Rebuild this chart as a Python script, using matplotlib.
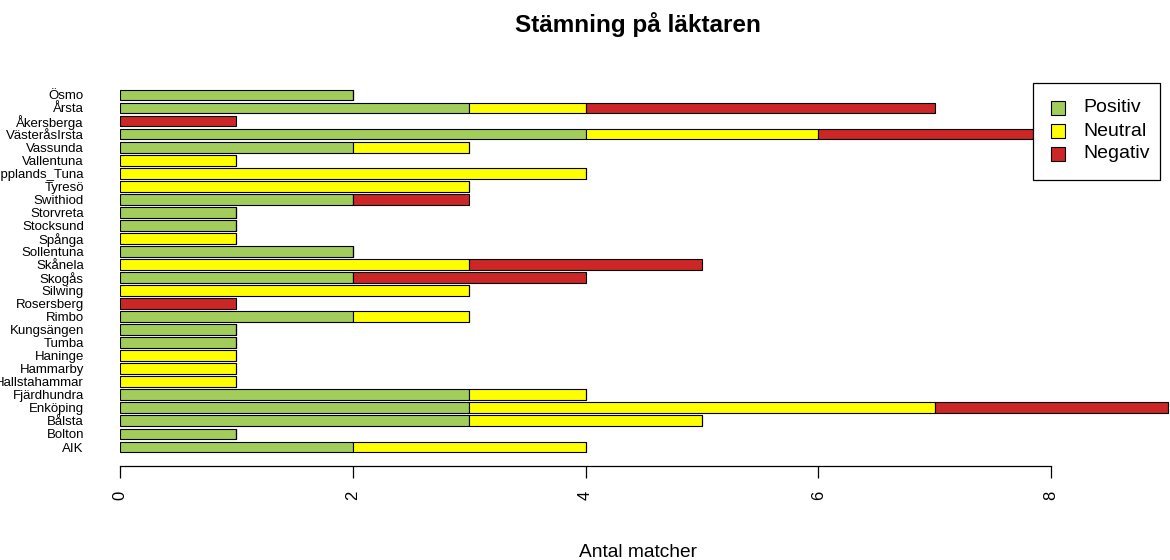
import numpy as np
import matplotlib.pyplot as plt
from matplotlib.patches import Rectangle

plt.rcParams['font.family'] = ['Liberation Sans', 'DejaVu Sans']

# bottom to top, as drawn by the barplot
teams = ["AIK", "Bolton", "Bålsta", "Enköping", "Fjärdhundra", "Hallstahammar",
         "Hammarby", "Haninge", "Tumba", "Kungsängen", "Rimbo", "Rosersberg",
         "Silwing", "Skogås", "Skånela", "Sollentuna", "Spånga", "Stocksund",
         "Storvreta", "Swithiod", "Tyresö", "Upplands_Tuna", "Vallentuna",
         "Vassunda", "VästeråsIrsta", "Åkersberga", "Årsta", "Ösmo"]
positiv = [2, 1, 3, 3, 3, 0, 0, 0, 1, 1, 2, 0, 0, 2, 0, 2, 0, 1, 1, 2, 0, 0, 0, 2, 4, 0, 3, 2]
neutral = [2, 0, 2, 4, 1, 1, 1, 1, 0, 0, 1, 0, 3, 0, 3, 0, 1, 0, 0, 0, 3, 4, 1, 1, 2, 0, 1, 0]
negativ = [0, 0, 0, 2, 0, 0, 0, 0, 0, 0, 0, 1, 0, 2, 2, 0, 0, 0, 0, 1, 0, 0, 0, 0, 2, 1, 3, 0]
series = ["Positiv", "Neutral", "Negativ"]
colors = ["#A2CD5A", "#FFFF00", "#CD2626"]

W, H = 1170, 560
fig = plt.figure(figsize=(11.7, 5.6), dpi=100)
ax = fig.add_axes([120 / W, 94 / H, 1050 / W, 406 / H])

y = np.arange(len(teams))
left = np.zeros(len(teams))
for name, vals, c in zip(series, [positiv, neutral, negativ], colors):
    ax.barh(y, vals, left=left, height=0.833, color=c, edgecolor="black",
            linewidth=0.8, label=name)
    left += np.array(vals)

ax.set_xlim(0, 1050 / 116.4)
ax.set_ylim(-1.457, 29.68)

for s in ["top", "right", "left"]:
    ax.spines[s].set_visible(False)
ax.spines["bottom"].set_bounds(0, 8)
ax.spines["bottom"].set_linewidth(0.9)

ax.set_xticks([0, 2, 4, 6, 8])
ax.set_xticklabels(["0", "2", "4", "6", "8"], rotation=90, fontsize=12)
ax.tick_params(axis="x", length=8.6, width=0.9, pad=9)

ax.set_yticks(y)
ax.set_yticklabels(teams, fontsize=9.5)
ax.tick_params(axis="y", length=0, pad=26)

fig.text(638 / W, 1 - 32 / H, "Stämning på läktaren", ha="center", va="baseline",
         fontsize=17.5, fontweight="bold")
fig.text(638 / W, 1 - 557 / H, "Antal matcher", ha="center", va="baseline",
         fontsize=13.8)

# legend box drawn like R's legend()
fig.patches.append(Rectangle((1033 / W, 1 - 180 / H), 127 / W, 97 / H,
                             transform=fig.transFigure, facecolor="white",
                             edgecolor="black", linewidth=0.9, zorder=5))
for i, (name, c) in enumerate(zip(series, colors)):
    yc = 108 + 23 * i
    fig.patches.append(Rectangle((1051 / W, 1 - (yc + 6.5) / H), 14 / W, 13 / H,
                                 transform=fig.transFigure, facecolor=c,
                                 edgecolor="black", linewidth=0.8, zorder=6))
    fig.text(1083 / W, 1 - yc / H, name, ha="left", va="center", fontsize=14,
             zorder=7)

plt.savefig("out.png")
